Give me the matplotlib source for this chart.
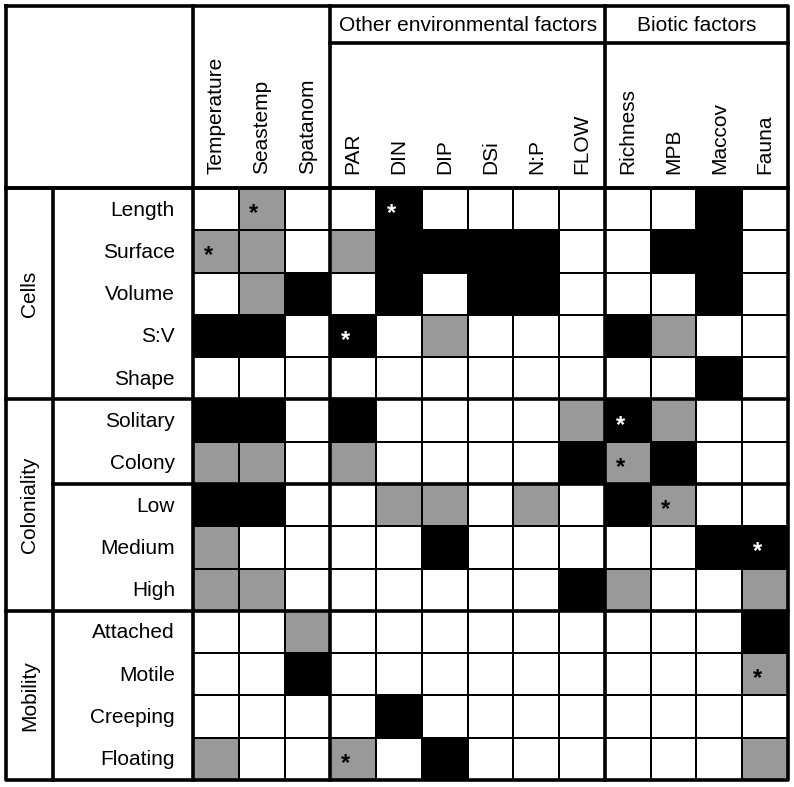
import matplotlib.pyplot as plt
import numpy as np
from matplotlib.colors import ListedColormap

plt.rcParams.update(
    {
        "font.family": ["Liberation Sans", "DejaVu Sans"],
        "font.size": 15,
    }
)

COLUMNS = [
    "Temperature", "Seastemp", "Spatanom",
    "PAR", "DIN", "DIP", "DSi", "N:P", "FLOW",
    "Richness", "MPB", "Maccov", "Fauna",
]
# (label, first column, end column)
COLUMN_GROUPS = [("Other environmental factors", 3, 9), ("Biotic factors", 9, 13)]

ROWS = [
    "Length", "Surface", "Volume", "S:V", "Shape",
    "Solitary", "Colony", "Low", "Medium", "High",
    "Attached", "Motile", "Creeping", "Floating",
]
ROW_GROUPS = [("Cells", 0, 5), ("Coloniality", 5, 10), ("Mobility", 10, 14)]
ROW_SUBGROUP_BREAKS = [7]

# 0 = no effect, 1 = grey, 2 = black
CELLS_LEVELS = [
    [0, 1, 0, 0, 2, 0, 0, 0, 0, 0, 0, 2, 0],
    [1, 1, 0, 1, 2, 2, 2, 2, 0, 0, 2, 2, 0],
    [0, 1, 2, 0, 2, 0, 2, 2, 0, 0, 0, 2, 0],
    [2, 2, 0, 2, 0, 1, 0, 0, 0, 2, 1, 0, 0],
    [0, 0, 0, 0, 0, 0, 0, 0, 0, 0, 0, 2, 0],
]
COLONIALITY_LEVELS = [
    [2, 2, 0, 2, 0, 0, 0, 0, 1, 2, 1, 0, 0],
    [1, 1, 0, 1, 0, 0, 0, 0, 2, 1, 2, 0, 0],
    [2, 2, 0, 0, 1, 1, 0, 1, 0, 2, 1, 0, 0],
    [1, 0, 0, 0, 0, 2, 0, 0, 0, 0, 0, 2, 2],
    [1, 1, 0, 0, 0, 0, 0, 0, 2, 1, 0, 0, 1],
]
MOBILITY_LEVELS = [
    [0, 0, 1, 0, 0, 0, 0, 0, 0, 0, 0, 0, 2],
    [0, 0, 2, 0, 0, 0, 0, 0, 0, 0, 0, 0, 1],
    [0, 0, 0, 0, 2, 0, 0, 0, 0, 0, 0, 0, 0],
    [1, 0, 0, 1, 0, 2, 0, 0, 0, 0, 0, 0, 1],
]

STAR_CELLS = [
    ("Length", "Seastemp"), ("Length", "DIN"), ("Surface", "Temperature"),
    ("S:V", "PAR"), ("Solitary", "Richness"), ("Colony", "Richness"),
    ("Low", "MPB"), ("Medium", "Fauna"), ("Motile", "Fauna"), ("Floating", "PAR"),
]

LEVEL_COLORS = ["#FFFFFF", "#999999", "#000000"]

# layout in pixels
W_PX, H_PX = 794, 787
LEFT, TOP, RIGHT, BOTTOM = 6, 6, 788, 780
GROUP_COL_RIGHT = 53
LABEL_COL_RIGHT = 193
GROUP_HEAD_BOTTOM = 43
HEAD_BOTTOM = 188
THICK = 2.6
THIN = 1.3


def main() -> None:
    levels = np.array(CELLS_LEVELS + COLONIALITY_LEVELS + MOBILITY_LEVELS)
    n_rows, n_cols = levels.shape

    fig = plt.figure(figsize=(W_PX / 100, H_PX / 100), dpi=100)
    ax = fig.add_axes([0, 0, 1, 1])
    ax.set_xlim(0, W_PX)
    ax.set_ylim(H_PX, 0)
    ax.axis("off")

    x_edges = np.linspace(LABEL_COL_RIGHT, RIGHT, n_cols + 1)
    y_edges = np.linspace(HEAD_BOTTOM, BOTTOM, n_rows + 1)
    col_w = x_edges[1] - x_edges[0]
    row_h = y_edges[1] - y_edges[0]

    ax.pcolormesh(
        x_edges, y_edges, levels,
        cmap=ListedColormap(LEVEL_COLORS), vmin=-0.5, vmax=2.5,
        edgecolors="black", linewidth=THIN, zorder=1,
    )

    line_kw = {"color": "black", "linewidth": THICK, "zorder": 3, "solid_capstyle": "projecting"}
    # outer frame and fixed separators
    ax.plot([LEFT, RIGHT, RIGHT, LEFT, LEFT], [TOP, TOP, BOTTOM, BOTTOM, TOP], **line_kw)
    ax.plot([LEFT, RIGHT], [HEAD_BOTTOM, HEAD_BOTTOM], **line_kw)
    ax.plot([GROUP_COL_RIGHT, GROUP_COL_RIGHT], [HEAD_BOTTOM, BOTTOM], **line_kw)
    ax.plot([LABEL_COL_RIGHT, LABEL_COL_RIGHT], [TOP, BOTTOM], **line_kw)

    for label, start, end in COLUMN_GROUPS:
        x0, x1 = x_edges[start], x_edges[end]
        ax.plot([x0, x0], [TOP, BOTTOM], **line_kw)
        ax.plot([x0, x1], [GROUP_HEAD_BOTTOM, GROUP_HEAD_BOTTOM], **line_kw)
        ax.text((x0 + x1) / 2, (TOP + GROUP_HEAD_BOTTOM) / 2 + 1, label,
                ha="center", va="center", zorder=4)

    for label, start, end in ROW_GROUPS:
        y0, y1 = y_edges[start], y_edges[end]
        ax.plot([LEFT, RIGHT], [y0, y0], **line_kw)
        ax.text((LEFT + GROUP_COL_RIGHT) / 2, (y0 + y1) / 2, label,
                rotation=90, ha="center", va="center", zorder=4)

    for idx in ROW_SUBGROUP_BREAKS:
        ax.plot([GROUP_COL_RIGHT, RIGHT], [y_edges[idx], y_edges[idx]], **line_kw)

    for i, name in enumerate(ROWS):
        ax.text(LABEL_COL_RIGHT - 18, (y_edges[i] + y_edges[i + 1]) / 2 + 1, name,
                ha="right", va="center", zorder=4)

    for j, name in enumerate(COLUMNS):
        ax.text((x_edges[j] + x_edges[j + 1]) / 2, HEAD_BOTTOM - 14, name,
                rotation=90, ha="center", va="bottom", zorder=4)

    for row_name, col_name in STAR_CELLS:
        i, j = ROWS.index(row_name), COLUMNS.index(col_name)
        color = "white" if levels[i, j] == 2 else "black"
        ax.text(x_edges[j] + 0.33 * col_w, y_edges[i] + 0.5 * row_h + 11, "*",
                ha="center", va="baseline", color=color, fontweight="bold",
                fontsize=17, zorder=4)

    fig.savefig("out.png", dpi=100)


if __name__ == "__main__":
    main()
